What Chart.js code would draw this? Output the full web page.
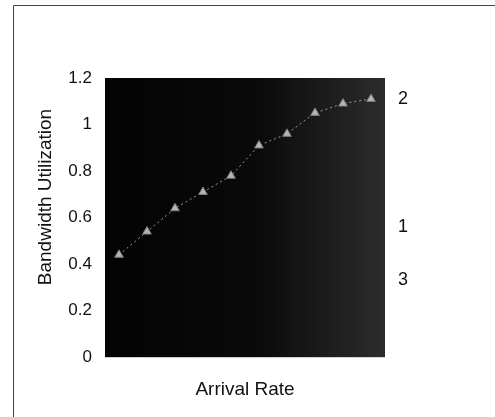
<!DOCTYPE html>
<html>
<head>
<meta charset="utf-8">
<script src="https://cdn.jsdelivr.net/npm/chart.js@4/dist/chart.umd.min.js"></script>
<style>
  html, body { margin: 0; padding: 0; background: #fff; }
  #wrap { width: 495px; height: 417px; position: relative; }
</style>
</head>
<body>
<div id="wrap"><canvas id="myChart" width="495" height="417"></canvas></div>
<script>
// x categories (no tick labels shown on the original)
var categories = ['1', '2', '3', '4', '5', '6', '7', '8', '9', '10'];

// series "2" - the only one visible against the dark plot
var series2 = [0.44, 0.54, 0.64, 0.71, 0.78, 0.91, 0.96, 1.05, 1.09, 1.11];

// labels at the right edge and the value they sit at
var endNames = ['2', '1', '3'];
var endValues = [1.11, 0.56, 0.33];

var yTicks = [0, 0.2, 0.4, 0.6, 0.8, 1, 1.2];
var yTitle = 'Bandwidth Utilization';

var FONT = '"Liberation Sans", Arial, sans-serif';

const framePlugin = {
    id: 'frame',
    beforeDraw: function (chart) {
        var ctx = chart.ctx;
        var a = chart.chartArea;
        ctx.save();
        ctx.strokeStyle = '#444';
        ctx.lineWidth = 1;
        ctx.beginPath();
        ctx.moveTo(13.5, 417);
        ctx.lineTo(13.5, 5.5);
        ctx.lineTo(495, 5.5);
        ctx.stroke();
        // dark plot background
        var g = ctx.createLinearGradient(a.left, a.top, a.right, a.top);
        g.addColorStop(0, '#030303');
        g.addColorStop(0.55, '#0a0a0a');
        g.addColorStop(1, '#2c2c2c');
        ctx.fillStyle = g;
        ctx.fillRect(a.left, a.top, a.right - a.left, a.bottom - a.top);
        ctx.restore();
    }
};

const textPlugin = {
    id: 'extraText',
    afterDraw: function (chart) {
        var ctx = chart.ctx;
        var y = chart.scales.y;
        ctx.save();
        ctx.fillStyle = '#111';
        ctx.font = '18px ' + FONT;
        ctx.textBaseline = 'middle';
        ctx.textAlign = 'left';
        for (var i = 0; i < endNames.length; i++) {
            ctx.fillText(endNames[i], chart.chartArea.right + 13, y.getPixelForValue(endValues[i]));
        }
        // y axis title, sits a bit above the middle of the plot
        ctx.font = '19px ' + FONT;
        ctx.textAlign = 'center';
        ctx.translate(46, 197);
        ctx.rotate(-Math.PI / 2);
        ctx.fillText(yTitle, 0, 0);
        ctx.restore();
    }
};

const data = {
    labels: categories,
    datasets: [{
        label: '2',
        data: series2,
        borderColor: '#9a9a9a',
        borderWidth: 1,
        borderDash: [2, 3],
        pointStyle: 'triangle',
        pointRadius: 5,
        pointBackgroundColor: '#b5b5b5',
        pointBorderColor: '#7a7a7a',
        pointBorderWidth: 1,
        tension: 0
    }]
};

const config = {
    type: 'line',
    data: data,
    options: {
        responsive: false,
        animation: false,
        layout: {
            padding: { top: 78, right: 110, bottom: 16, left: 0 }
        },
        plugins: {
            legend: { display: false },
            tooltip: { enabled: false }
        },
        scales: {
            x: {
                offset: true,
                grid: { display: false, drawTicks: false },
                border: { display: false },
                ticks: { display: false },
                title: {
                    display: true,
                    text: 'Arrival Rate',
                    color: '#111',
                    font: { family: FONT, size: 19 },
                    padding: { top: 21, bottom: 0 }
                }
            },
            y: {
                min: 0,
                max: 1.2,
                afterFit: function (scale) { scale.width = 105; },
                afterBuildTicks: function (scale) {
                    scale.ticks = yTicks.map(function (v) { return { value: v }; });
                },
                grid: { display: false, drawTicks: false },
                border: { display: false },
                ticks: {
                    color: '#111',
                    padding: 13,
                    font: { family: FONT, size: 17 },
                    callback: function (v) { return String(v); }
                }
            }
        }
    },
    plugins: [framePlugin, textPlugin]
};

const myChart = new Chart(
    document.getElementById('myChart'),
    config
);
</script>
</body>
</html>
